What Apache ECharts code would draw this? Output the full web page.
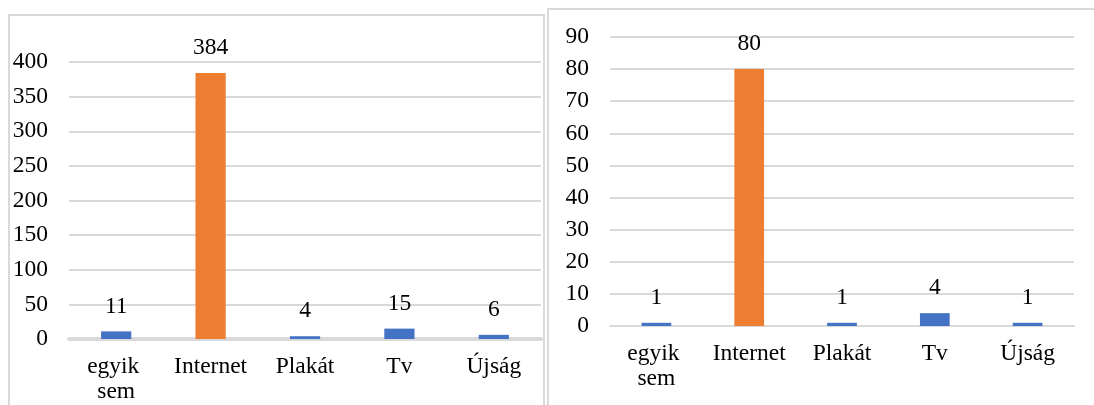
<!DOCTYPE html>
<html>
<head>
<meta charset="utf-8">
<script src="https://cdn.jsdelivr.net/npm/echarts@6/dist/echarts.min.js"></script>
<style>
  html, body { margin: 0; padding: 0; background: #fff; }
  body { width: 1094px; height: 405px; position: relative; overflow: hidden; }
  .frame { position: absolute; border: 2px solid #d9d9d9; box-sizing: border-box; }
  #chart { position: absolute; left: 0; top: 0; width: 1094px; height: 405px; }
</style>
</head>
<body>
<div class="frame" style="left:8px; top:14px; width:537px; height:420px;"></div>
<div class="frame" style="left:547px; top:8px; width:560px; height:420px;"></div>
<div id="chart"></div>
<script>
// Media sources reported in two surveys
const categories = ['egyik sem', 'Internet', 'Plakát', 'Tv', 'Újság'];
const leftValues = [11, 384, 4, 15, 6];
const rightValues = [1, 80, 1, 4, 1];
const highlightCategory = 'Internet';

const BLUE = '#4472C4';
const ORANGE = '#ED7D31';
const GRID_GRAY = '#d9d9d9';
const FONT = '"Liberation Serif", "Times New Roman", serif';
const FONT_SIZE = 23.5;

function barData(values) {
  return values.map((v, i) => ({
    value: v,
    itemStyle: { color: categories[i] === highlightCategory ? ORANGE : BLUE }
  }));
}

function xAxis(gridIndex, lineWidth) {
  return {
    type: 'category',
    gridIndex,
    data: categories,
    axisTick: { show: false },
    axisLine: { show: true, lineStyle: { color: GRID_GRAY, width: lineWidth } },
    axisLabel: {
      color: '#000', fontFamily: FONT, fontSize: FONT_SIZE, lineHeight: 25,
      margin: 15.5, width: 82, overflow: 'break', interval: 0
    }
  };
}

function yAxis(gridIndex, max, interval) {
  return {
    type: 'value',
    gridIndex,
    min: 0, max, interval,
    axisLine: { show: false },
    axisTick: { show: false },
    splitLine: { lineStyle: { color: GRID_GRAY, width: 2 } },
    axisLabel: { color: '#000', fontFamily: FONT, fontSize: FONT_SIZE, margin: 21 }
  };
}

function barSeries(index, values) {
  return {
    type: 'bar',
    xAxisIndex: index,
    yAxisIndex: index,
    data: barData(values),
    barWidth: '32%',
    label: {
      show: true, position: 'top', distance: 14,
      color: '#000', fontFamily: FONT, fontSize: FONT_SIZE, lineHeight: 22
    },
    silent: true
  };
}

const chart = echarts.init(document.getElementById('chart'), null, { renderer: 'canvas' });
chart.setOption({
  animation: false,
  backgroundColor: 'transparent',
  grid: [
    { left: 69, top: 62, width: 472, height: 277 },
    { left: 610, top: 37, width: 464, height: 289 }
  ],
  xAxis: [xAxis(0, 4), xAxis(1, 2)],
  yAxis: [yAxis(0, 400, 50), yAxis(1, 90, 10)],
  series: [barSeries(0, leftValues), barSeries(1, rightValues)]
});
</script>
</body>
</html>
